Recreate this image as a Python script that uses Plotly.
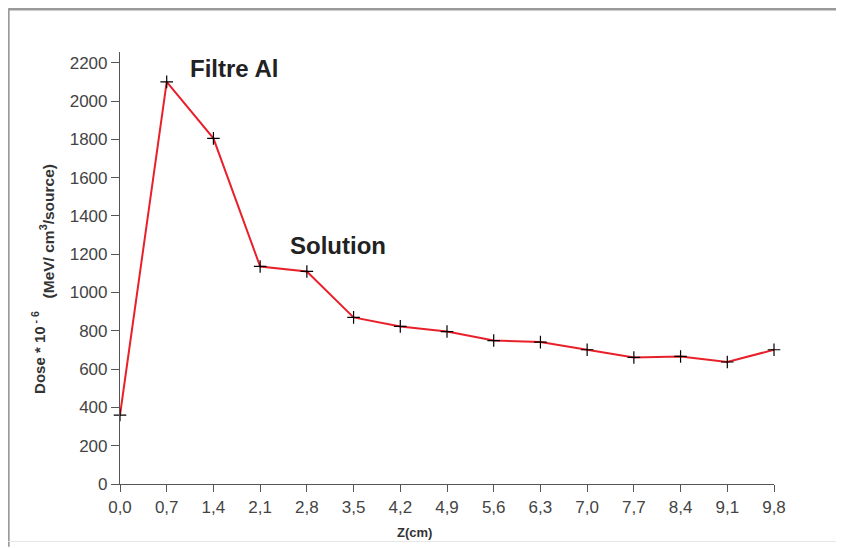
import plotly.graph_objects as go

z_cm = [0.0, 0.7, 1.4, 2.1, 2.8, 3.5, 4.2, 4.9, 5.6, 6.3, 7.0, 7.7, 8.4, 9.1, 9.8]
dose = [360, 2100, 1805, 1136, 1110, 870, 823, 796, 749, 741, 701, 661, 666, 637, 701]
x_tick_vals = [0.0, 0.7, 1.4, 2.1, 2.8, 3.5, 4.2, 4.9, 5.6, 6.3, 7.0, 7.7, 8.4, 9.1, 9.8]
x_tick_text = ["0,0", "0,7", "1,4", "2,1", "2,8", "3,5", "4,2", "4,9", "5,6", "6,3",
               "7,0", "7,7", "8,4", "9,1", "9,8"]
y_tick_vals = [0, 200, 400, 600, 800, 1000, 1200, 1400, 1600, 1800, 2000, 2200]

FONT = "Arial, Liberation Sans, sans-serif"

fig = go.Figure()
fig.add_trace(go.Scatter(
    x=z_cm, y=dose, mode="lines+markers",
    line=dict(color="#e8202a", width=2),
    marker=dict(symbol="cross-thin", size=9, color="black",
                line=dict(color="black", width=1.2)),
    showlegend=False, cliponaxis=False,
))

axis_common = dict(showgrid=False, zeroline=False, showline=True, automargin=False,
                   linecolor="#555", linewidth=1.2, ticks="outside",
                   tickcolor="#555", tickwidth=1.2,
                   tickfont=dict(family=FONT, size=17, color="#444"))

fig.update_xaxes(range=[0, 9.8], tickvals=x_tick_vals, ticktext=x_tick_text,
                 ticklen=7, **axis_common)
fig.update_yaxes(range=[0, 2256], tickvals=y_tick_vals, ticklen=8, **axis_common)

# y-axis title in two pieces, as in the original
fig.add_annotation(xref="paper", yref="paper", x=-0.124, y=0.3056, textangle=-90,
                   text="<b>Dose * 10<sup> - 6</sup></b>",
                   showarrow=False, xanchor="center", yanchor="middle",
                   font=dict(family=FONT, size=15, color="#333"))
fig.add_annotation(xref="paper", yref="paper", x=-0.111, y=0.5856, textangle=-90,
                   text="<b>(MeV/ cm<sup>3</sup>/source)</b>",
                   showarrow=False, xanchor="center", yanchor="middle",
                   font=dict(family=FONT, size=15.5, color="#333"))
fig.add_annotation(xref="paper", yref="paper", x=0.451, y=-0.113,
                   text="<b>Z(cm)</b>", showarrow=False, xanchor="center", yanchor="middle",
                   font=dict(family=FONT, size=13, color="#333"))

fig.add_annotation(x=1.71, y=2170, text="<b>Filtre Al</b>", showarrow=False,
                   font=dict(family=FONT, size=24, color="#222"))
fig.add_annotation(x=3.26, y=1247, text="<b>Solution</b>", showarrow=False,
                   font=dict(family=FONT, size=24, color="#222"))

# outer frame (figure is offset 8px by the page body margin)
fig.add_shape(type="line", xref="paper", yref="paper", x0=-0.171, x1=1.12, y0=1.0995, y1=1.0995,
              line=dict(color="#9a9a9a", width=3))
fig.add_shape(type="line", xref="paper", yref="paper", x0=-0.171, x1=-0.171, y0=1.0995, y1=-0.145,
              line=dict(color="#9a9a9a", width=3))
fig.add_shape(type="line", xref="paper", yref="paper", x0=-0.171, x1=1.12, y0=-0.133, y1=-0.133,
              line=dict(color="#e6e6e6", width=1))
fig.add_shape(type="line", xref="paper", yref="paper", x0=1.1, x1=1.1, y0=1.0995, y1=-0.145,
              line=dict(color="#e6e6e6", width=1))

fig.update_layout(width=836, height=540,
                  margin=dict(l=112, r=70, t=44, b=64),
                  paper_bgcolor="white", plot_bgcolor="white")

fig.write_html("out.html")
